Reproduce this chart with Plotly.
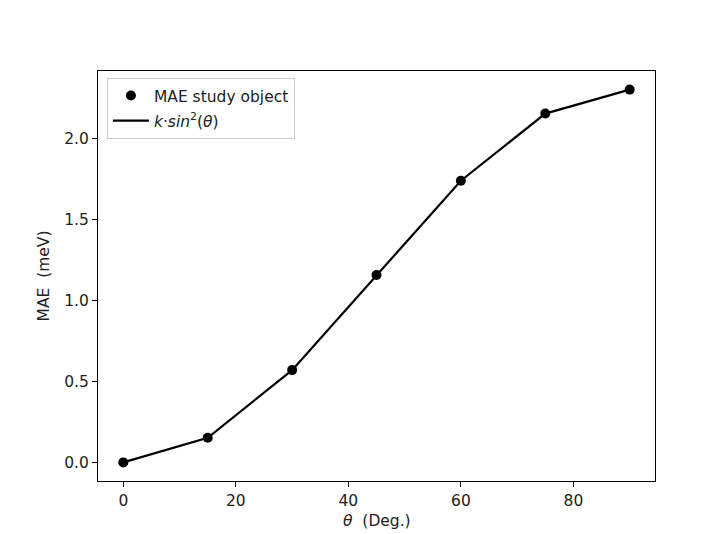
import plotly.graph_objects as go

# Magnetic anisotropy energy versus polar angle
theta_deg = [0, 15, 30, 45, 60, 75, 90]
mae_mev = [0.0, 0.152, 0.570, 1.158, 1.740, 2.155, 2.303]
fit_mev = [0.0, 0.152, 0.570, 1.158, 1.740, 2.155, 2.303]

x_ticks = [0, 20, 40, 60, 80]
y_ticks = [0.0, 0.5, 1.0, 1.5, 2.0]
y_tick_text = ["0.0", "0.5", "1.0", "1.5", "2.0"]

font_family = "DejaVu Sans"
fs = 15.5

fig = go.Figure()

fig.add_trace(go.Scatter(
    x=theta_deg, y=mae_mev, mode="markers",
    marker=dict(color="black", size=10),
    name="MAE study object", legendgroup="a",
))
fig.add_trace(go.Scatter(
    x=theta_deg, y=fit_mev, mode="lines",
    line=dict(color="black", width=2.2),
    name="<i>k</i>·<i>sin</i><sup>2</sup>(<i>θ</i>)", legendgroup="b",
))

axis_common = dict(
    showline=True, linecolor="black", linewidth=1, mirror=True,
    ticks="outside", ticklen=5, tickwidth=1, tickcolor="black",
    showgrid=False, zeroline=False,
    tickfont=dict(family=font_family, size=fs, color="#222"),
)

fig.update_layout(
    width=714, height=534,
    margin=dict(l=98, r=59, t=71, b=53),
    paper_bgcolor="white", plot_bgcolor="white",
    font=dict(family=font_family, size=fs, color="#222"),
    xaxis=dict(range=[-4.5, 94.5], tickvals=x_ticks, automargin=False,
               **axis_common),
    yaxis=dict(
        range=[-0.115, 2.418], tickvals=y_ticks, ticktext=y_tick_text,
        automargin=False,
        title=dict(text="MAE  (meV)", standoff=10,
                   font=dict(family=font_family, size=fs, color="#222")),
        **axis_common,
    ),
    legend=dict(
        x=0.016, y=0.983, xanchor="left", yanchor="top",
        bgcolor="rgba(255,255,255,0.8)", bordercolor="#cccccc", borderwidth=1,
        font=dict(family=font_family, size=fs, color="#222"),
        itemwidth=36, tracegroupgap=2,
    ),
    showlegend=True,
)

# x-axis title placed under the tick labels
fig.add_annotation(
    text="<i>θ</i>  (Deg.)", xref="paper", yref="paper",
    x=0.5, y=-0.098, xanchor="center", yanchor="middle",
    showarrow=False, font=dict(family=font_family, size=fs, color="#222"),
)

fig.write_html("out.html")
